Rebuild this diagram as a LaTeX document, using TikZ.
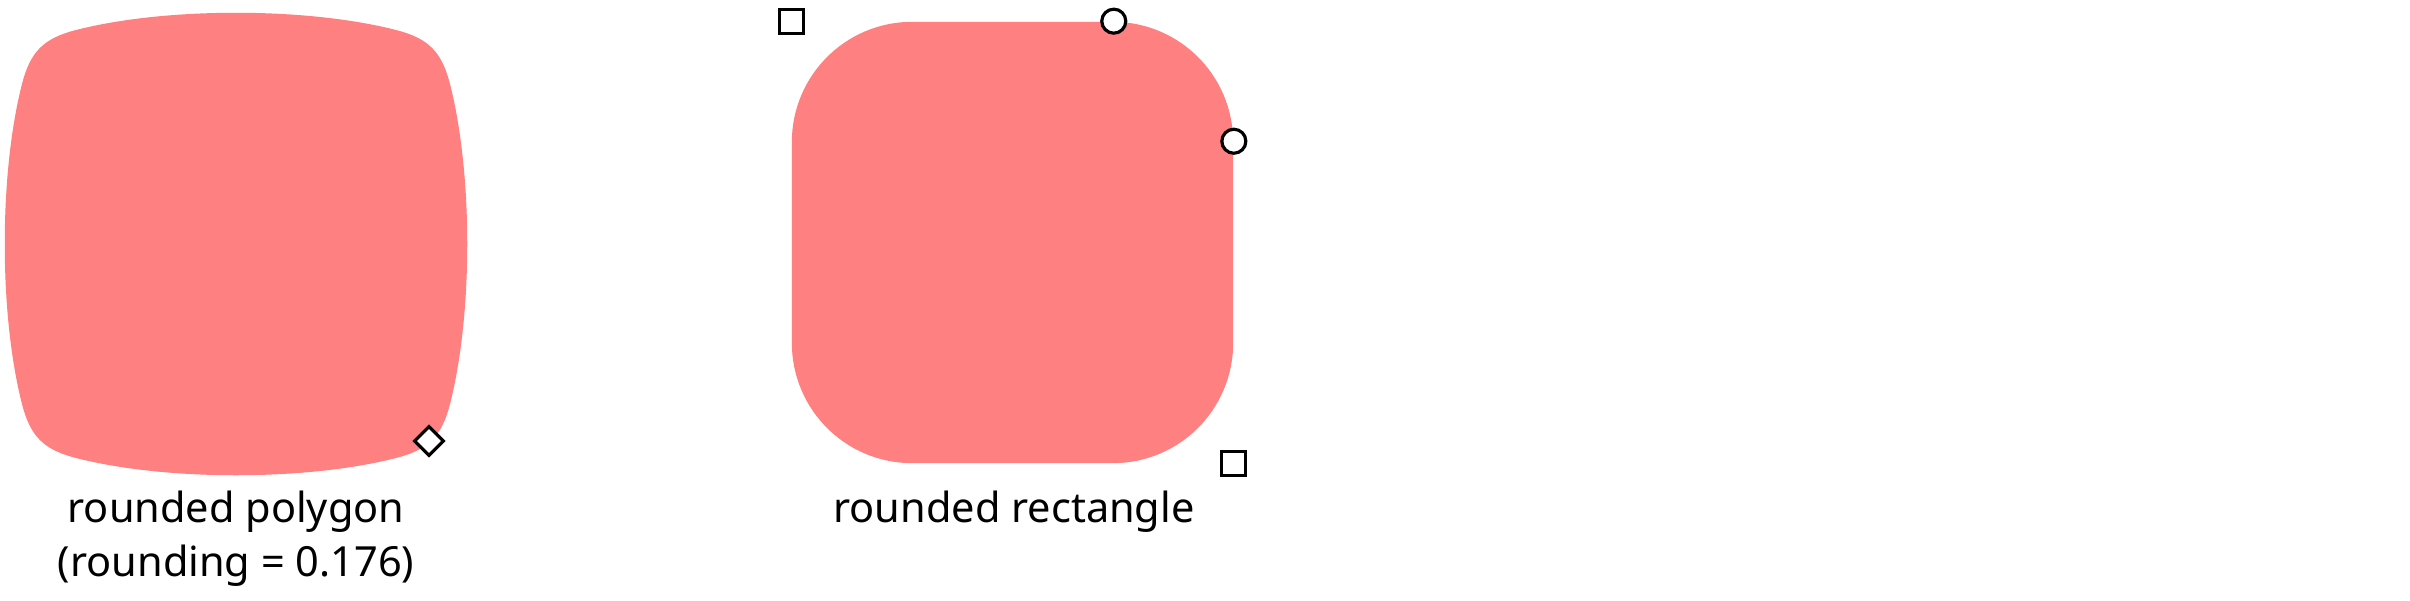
\documentclass[tikz,border=0pt]{standalone}
\usepackage{fontspec}
\setmainfont{Noto Sans}
\usepackage{xcolor}
\usetikzlibrary{positioning,shapes.geometric}

\definecolor{shapefill}{RGB}{255,128,128}

\begin{document}
\begin{tikzpicture}[
    x=0.01cm, y=-0.01cm,
    font=\fontsize{11.8}{15.3}\selectfont,
    % --- styles ------------------------------------------------------
    shapebody/.style={fill=shapefill, draw=none},
    rrect/.style={
        shapebody, rectangle, rounded corners=1.2cm,
        minimum width=4.41cm, minimum height=4.41cm, inner sep=0pt
    },
    handle/.style={
        draw=black, fill=white, line width=0.9pt, inner sep=0pt
    },
    sqhandle/.style={handle, rectangle, minimum size=0.24cm},
    cirhandle/.style={handle, circle, minimum size=0.24cm},
    diahandle/.style={handle, diamond, minimum size=0.3cm},
    caption/.style={align=center, inner sep=0pt}
]
\useasboundingbox (0,0) rectangle (2410,600);

% --- rounded polygon ----------------------------------------------
\begin{scope}[shift={(236,244)}]
\fill[shapefill] (-160,-214)
    .. controls (-70,-237) and (70,-237) .. (160,-214)
    .. controls (192.4,-205.7) and (205.7,-192.4) .. (214,-160)
    .. controls (237,-70) and (237,70) .. (214,160)
    .. controls (205.7,192.4) and (192.4,205.7) .. (160,214)
    .. controls (70,237) and (-70,237) .. (-160,214)
    .. controls (-192.4,205.7) and (-205.7,192.4) .. (-214,160)
    .. controls (-237,70) and (-237,-70) .. (-214,-160)
    .. controls (-205.7,-192.4) and (-192.4,-205.7) .. (-160,-214) -- cycle;
\end{scope}
\node[diahandle] (polycorner) at (429,441) {};
\node[caption] (polylabel) at (236,539)
    {rounded polygon\\(rounding = 0.176)};

% --- rounded rectangle --------------------------------------------
\node[rrect] (rect) at (1012.5,242.5) {};
\node[sqhandle] (rectnw) at (rect.north west) {};
\node[sqhandle] (rectse) at (rect.south east) {};
\node[cirhandle] (arcstart) at ([xshift=-1.2cm]rect.north east) {};
\node[cirhandle] (arcend) at ([yshift=-1.2cm]rect.north east) {};
\node[caption] (rectlabel) at (1014,512) {rounded rectangle};

\end{tikzpicture}
\end{document}
